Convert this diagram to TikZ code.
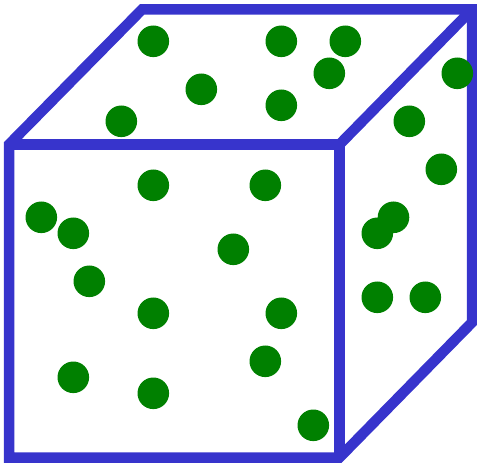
\documentclass[tikz,border=0pt]{standalone}
\definecolor{cubeblue}{RGB}{55,52,204}
\definecolor{dotgreen}{RGB}{0,128,0}
\tikzset{edge/.style={draw=cubeblue,line width=10.5pt,line join=miter},
  dot/.style={fill=dotgreen}}
\begin{document}
\begin{tikzpicture}[x=1pt,y=-1pt]
\useasboundingbox (0,0) rectangle (477,465);
\coordinate (A) at (9,457.5);   % front bottom-left
\coordinate (B) at (9,144.5);   % front top-left
\coordinate (C) at (339.5,144.5); % front top-right
\coordinate (D) at (339.5,457.5); % front bottom-right
\coordinate (E) at (142,9.5);   % back top-left
\coordinate (F) at (472,9.5);   % back top-right
\coordinate (G) at (472,322.5); % back bottom-right
\draw[edge] (A) -- (B) -- (E) -- (F) -- (G) -- (D) -- cycle;
\draw[edge] (B) -- (C) -- (D);
\draw[edge] (C) -- (F);
\foreach \x/\y in {153.3/41.3, 201.3/89.3, 121.3/121.3, 281.3/41.3, 345.3/41.3, 329.3/73.3, 281.3/105.3,
  457.3/73.3, 409.3/121.3, 441.3/169.3, 393.5/217.3, 377.3/233.3, 377.3/297.3, 425.3/297.3,
  153.3/185.3, 265.3/185.3, 41.3/217.3, 73.3/233.3, 233.3/249.3, 89.3/281.3, 153.3/313.3, 281.3/313.3,
  265.3/361.3, 73.3/377.3, 153.3/393.3, 313.3/425.3}
  \fill[dot] (\x,\y) circle (15.8);
\end{tikzpicture}
\end{document}
